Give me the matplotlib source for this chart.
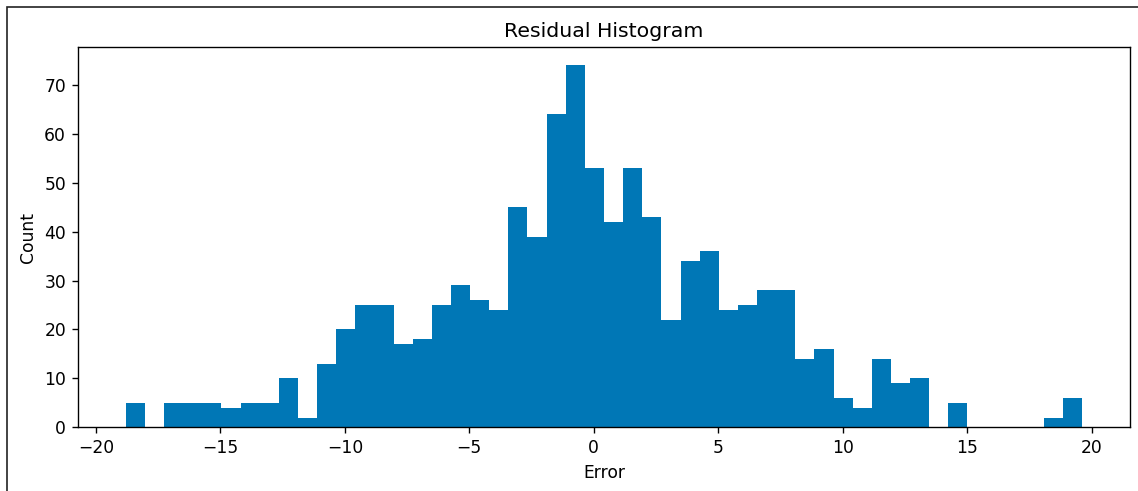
import numpy as np
import matplotlib
matplotlib.use("Agg")
import matplotlib.pyplot as plt
from matplotlib.patches import Rectangle


# =========================
# DATA
# =========================

bin_start = -18.80
bin_stop = 19.62
n_bins = 50

counts = [
    5, 0, 5, 5, 5, 4, 5, 5, 10, 2,
    13, 20, 25, 25, 17, 18, 25, 29, 26, 24,
    45, 39, 64, 74, 53, 42, 53, 43, 22, 34,
    36, 24, 25, 28, 28, 14, 16, 6, 4, 14,
    9, 10, 0, 5, 0, 0, 0, 0, 2, 6,
]

title = "Residual Histogram"
x_label = "Error"
y_label = "Count"
bar_color = "#0077b6"


# =========================
# STYLE
# =========================

# the reference looks like a default chart scaled up by ~1.23
scale = 1.23
plt.rcParams["font.size"] = 10 * scale
plt.rcParams["axes.linewidth"] = 0.8 * scale
plt.rcParams["xtick.major.size"] = 3.5 * scale
plt.rcParams["ytick.major.size"] = 3.5 * scale
plt.rcParams["xtick.major.width"] = 0.8 * scale
plt.rcParams["ytick.major.width"] = 0.8 * scale
plt.rcParams["xtick.major.pad"] = 3.5 * scale
plt.rcParams["ytick.major.pad"] = 3.5 * scale
plt.rcParams["axes.titlepad"] = 6 * scale
plt.rcParams["axes.labelpad"] = 4 * scale


# =========================
# DRAWING
# =========================

edges = np.linspace(bin_start, bin_stop, n_bins + 1)
centers = (edges[:-1] + edges[1:]) / 2

fig = plt.figure(figsize=(11.38, 4.91), dpi=100)
ax = fig.add_axes([78 / 1138, 1 - 427.3 / 491, (1130 - 78) / 1138, (427.3 - 47.3) / 491])

ax.hist(centers, bins=edges, weights=counts, color=bar_color)

ax.set_title(title)
ax.set_xlabel(x_label)
ax.set_ylabel(y_label)

# frame of the screenshot around the figure (left and top edges visible)
frame = Rectangle(
    (6.5 / 1138, -0.2),
    2.0,
    1.2 - 6.5 / 491,
    transform=fig.transFigure,
    fill=False,
    edgecolor="#222222",
    linewidth=1.2,
)
fig.add_artist(frame)

fig.savefig("out.png", dpi=100)
